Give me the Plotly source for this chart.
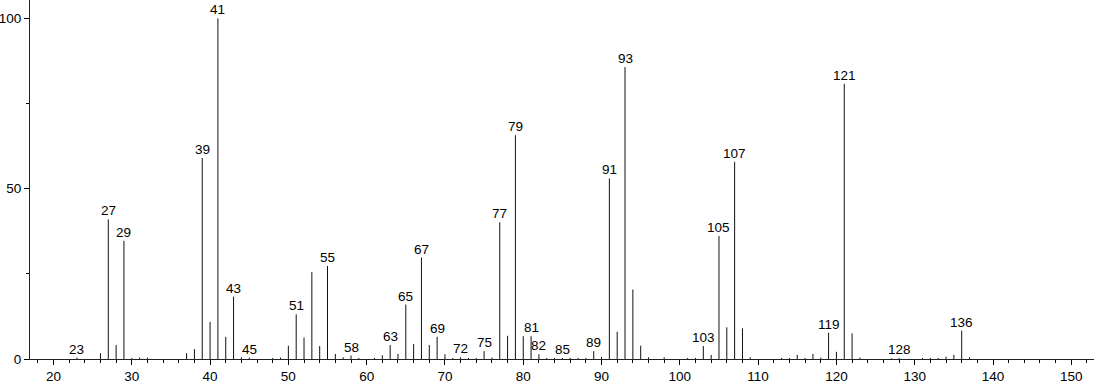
import plotly.graph_objects as go

mz = [23, 26, 27, 28, 29, 30, 31, 32, 37, 38, 39, 40, 41, 42, 43, 44, 45, 48, 49,
      50, 51, 52, 53, 54, 55, 56, 57, 58, 59, 61, 62, 63, 64, 65, 66, 67, 68, 69,
      70, 71, 72, 73, 74, 75, 76, 77, 78, 79, 80, 81, 82, 83, 84, 85, 86, 87, 88,
      89, 90, 91, 92, 93, 94, 95, 96, 98, 101, 102, 103, 104, 105, 106, 107, 108,
      109, 113, 114, 115, 116, 117, 118, 119, 120, 121, 122, 123, 127, 128, 131,
      132, 133, 134, 135, 136, 137]
intensity = [0.4, 1.7, 41.0, 4.1, 34.7, 0.3, 0.4, 0.4, 1.7, 2.9, 59.0, 10.9, 100.0,
             6.5, 18.3, 0.5, 0.4, 0.3, 0.4,
             3.9, 13.1, 6.3, 25.5, 3.8, 27.3, 1.5, 0.5, 1.0, 0.3, 0.3, 1.1, 4.1, 1.5,
             16.0, 4.4, 29.8, 4.1, 6.5,
             1.4, 0.3, 0.5, 0.3, 0.3, 2.3, 0.4, 40.1, 6.8, 65.7, 6.7, 6.7, 1.4, 0.3,
             0.3, 0.3, 0.3, 0.3, 0.3,
             2.3, 0.6, 53.0, 8.0, 85.7, 20.4, 3.9, 0.5, 0.5, 0.3, 0.3, 3.8, 1.2, 36.1,
             9.3, 57.9, 9.0,
             0.5, 0.3, 0.3, 1.2, 0.3, 1.5, 0.4, 7.7, 2.1, 80.8, 7.5, 0.4, 0.2, 0.3,
             0.3, 0.3, 0.3, 0.7, 1.2, 8.3, 0.5]
labeled = [23, 27, 29, 39, 41, 43, 45, 51, 55, 58, 63, 65, 67, 69, 72, 75, 77, 79,
           81, 82, 85, 89, 91, 93, 103, 105, 107, 119, 121, 128, 136]

xs, ys = [], []
for m, v in zip(mz, intensity):
    xs += [m, m, None]
    ys += [0, v, None]

fig = go.Figure()
fig.add_trace(go.Scatter(x=xs, y=ys, mode="lines",
                         line=dict(color="#111111", width=1),
                         hoverinfo="skip", showlegend=False))

lookup = dict(zip(mz, intensity))
for m in labeled:
    fig.add_annotation(x=m, y=lookup[m], text=str(m), showarrow=False,
                       yanchor="bottom", xanchor="center", yshift=-1,
                       font=dict(family="Liberation Sans, Arial", size=13.5, color="black"))

axis_font = dict(family="Liberation Sans, Arial", size=13.5, color="black")
fig.update_layout(
    width=1094, height=384,
    margin=dict(l=30, r=0, t=0, b=25),
    plot_bgcolor="white", paper_bgcolor="white",
    font=axis_font,
    xaxis=dict(range=[17, 152.9], tick0=0, dtick=10, ticks="outside", ticklen=5,
               tickcolor="black", showline=True, linecolor="#222222", linewidth=1,
               showgrid=False, zeroline=False, tickfont=axis_font,
               minor=dict(dtick=2, ticks="outside", ticklen=3, tickcolor="black",
                          showgrid=False)),
    yaxis=dict(range=[0, 105.4], tick0=0, dtick=50, ticks="outside", ticklen=5,
               tickcolor="black", showline=True, linecolor="#222222", linewidth=1,
               showgrid=False, zeroline=False, tickfont=axis_font,
               minor=dict(dtick=25, ticks="outside", ticklen=3, tickcolor="black",
                          showgrid=False)),
)

fig.write_html("out.html")
